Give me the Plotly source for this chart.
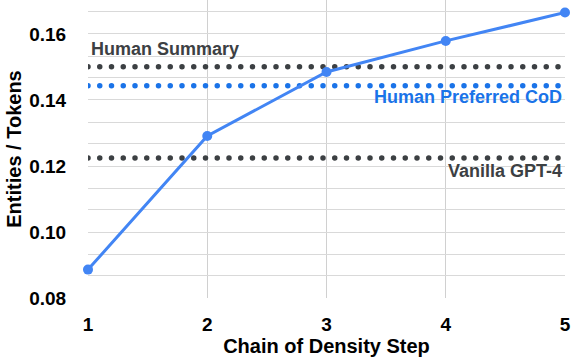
import plotly.graph_objects as go

# Chain of Density steps vs entity density
steps = [1, 2, 3, 4, 5]
density = [0.0886, 0.1291, 0.1485, 0.1579, 0.1665]

# reference levels (horizontal dotted lines)
ref_names = ["Human Summary", "Human Preferred CoD", "Vanilla GPT-4"]
ref_values = [0.1501, 0.1443, 0.1224]
ref_colors = ["#3c4043", "#1a73e8", "#3c4043"]

y_ticks = [0.08, 0.0867, 0.0933, 0.10, 0.1067, 0.1133, 0.12, 0.1267, 0.1333,
           0.14, 0.1467, 0.1533, 0.16, 0.1667]
y_labels = ["0.08", "", "", "0.10", "", "", "0.12", "", "",
            "0.14", "", "", "0.16", ""]

FONT = "Liberation Sans, Arial, sans-serif"

fig = go.Figure()

for name, val, color in zip(ref_names, ref_values, ref_colors):
    fig.add_trace(go.Scatter(
        x=[steps[0], steps[-1]], y=[val, val],
        mode="lines",
        line=dict(color=color, width=5.5, dash="0px,11.75px"),
        hoverinfo="skip", showlegend=False,
    ))

fig.add_trace(go.Scatter(
    x=steps, y=density,
    mode="lines+markers",
    line=dict(color="#4285f4", width=3),
    marker=dict(size=10, color="#4285f4"),
    cliponaxis=False, showlegend=False,
))

# labels next to the dotted lines
fig.add_annotation(x=steps[0], y=ref_values[0], text="<b>Human Summary</b>",
                   xanchor="left", yanchor="bottom", yshift=6, xshift=1,
                   showarrow=False, font=dict(size=18, color="#3c4043", family=FONT))
fig.add_annotation(x=steps[-1], y=ref_values[1], text="<b>Human Preferred CoD</b>",
                   xanchor="right", yanchor="top", yshift=1, xshift=-1,
                   showarrow=False, font=dict(size=18, color="#1a73e8", family=FONT))
fig.add_annotation(x=steps[-1], y=ref_values[2], text="<b>Vanilla GPT-4</b>",
                   xanchor="right", yanchor="top", yshift=-1, xshift=-1,
                   showarrow=False, font=dict(size=18, color="#3c4043", family=FONT))

fig.update_layout(
    width=572, height=360,
    paper_bgcolor="white", plot_bgcolor="white",
    margin=dict(l=88, r=7, t=0, b=62, autoexpand=False),
    font=dict(family=FONT, color="black"),
    xaxis=dict(
        range=[1, 5], tickvals=steps, ticktext=[f"<b>{s}</b>" for s in steps],
        tickfont=dict(size=19), showgrid=True, gridcolor="#d0d0d0", gridwidth=1,
        zeroline=False, showline=False, ticks="outside", ticklen=9,
        tickcolor="rgba(0,0,0,0)",
        title=dict(text="<b>Chain of Density Step</b>", font=dict(size=20), standoff=2),
    ),
    yaxis=dict(
        range=[0.08, 0.1703], tickvals=y_ticks, ticktext=[f"<b>{t}</b>" if t else "" for t in y_labels],
        tickfont=dict(size=19), showgrid=True, gridcolor="#d9d9d9", gridwidth=1,
        zeroline=False, showline=False, ticks="outside", ticklen=17,
        tickcolor="rgba(0,0,0,0)",
        title=dict(text="<b>Entities / Tokens</b>", font=dict(size=20), standoff=2),
    ),
)

round_dots = """
document.body.style.margin='0';
document.querySelectorAll('path.js-line').forEach(function(p){
  var d = p.style.strokeDasharray;
  if (d && d !== 'none') { p.style.strokeLinecap = 'round'; }
});
"""

fig.write_html("out.html", config={"displayModeBar": False}, post_script=round_dots)
